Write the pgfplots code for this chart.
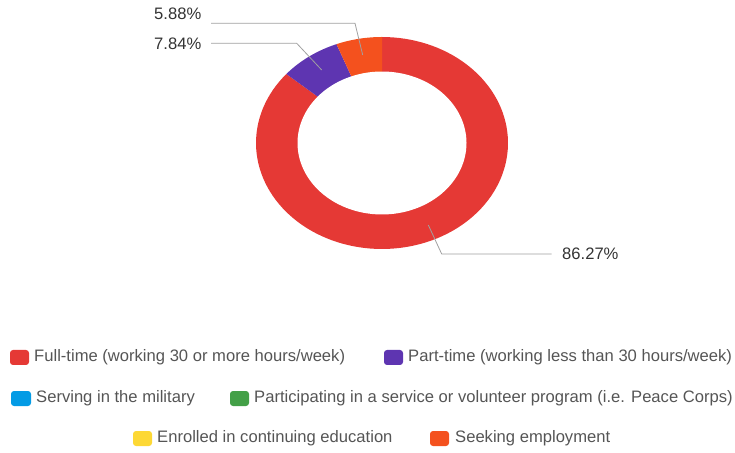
\documentclass[border=0pt]{standalone}
\usepackage{pgfplots}
\pgfplotsset{compat=1.18}
\usepackage{fontspec}
\setmainfont{Liberation Sans}

\definecolor{cFull}{HTML}{E53935}
\definecolor{cPart}{HTML}{5E35B1}
\definecolor{cMil}{HTML}{039BE5}
\definecolor{cVol}{HTML}{43A047}
\definecolor{cEdu}{HTML}{FDD835}
\definecolor{cSeek}{HTML}{F4511E}
\definecolor{lead}{HTML}{A0A0A0}
\definecolor{legtext}{HTML}{555555}
\definecolor{labtext}{HTML}{333333}

\begin{document}
\begin{tikzpicture}
    % shares (percent), clockwise from 12 o'clock
    \pgfmathsetmacro{\vFull}{86.27}
    \pgfmathsetmacro{\vPart}{7.84}
    \pgfmathsetmacro{\vSeek}{5.88}
    \pgfmathsetmacro{\tot}{\vFull+\vPart+\vSeek}
    \pgfmathsetmacro{\aA}{90}
    \pgfmathsetmacro{\aB}{90-(\vFull/\tot)*360}
    \pgfmathsetmacro{\aC}{\aB-(\vPart/\tot)*360}
    \pgfmathsetmacro{\aD}{-270}
    \begin{axis}[
        name=main,
        width=735pt, height=452pt,
        scale only axis,
        xmin=0, xmax=735,
        ymin=-452, ymax=0,
        hide axis,
        clip=false,
    ]
        % slices (ellipse centre 382,-143; radii 126 x 106)
        \addplot[fill=cFull, draw=none, domain=\aB:\aA, samples=120]
            ({382+126*cos(x)}, {-143+106*sin(x)}) -- (382,-143) -- cycle;
        \addplot[fill=cPart, draw=none, domain=\aC:\aB, samples=20]
            ({382+126*cos(x)}, {-143+106*sin(x)}) -- (382,-143) -- cycle;
        \addplot[fill=cSeek, draw=none, domain=\aD:\aC, samples=20]
            ({382+126*cos(x)}, {-143+106*sin(x)}) -- (382,-143) -- cycle;
        % hole
        \addplot[fill=white, draw=none, domain=0:360, samples=120]
            ({382+84.5*cos(x)}, {-143+71.5*sin(x)}) -- cycle;

        % leader lines and labels
        \draw[lead, line width=0.8pt] (211,-23.3) -- (355,-23.3) -- (362.7,-55);
        \draw[lead, line width=0.8pt] (211,-43.3) -- (296.7,-43.3) -- (321.7,-70);
        \draw[lead, line width=0.8pt] (551.7,-254) -- (441.7,-254) -- (428.3,-225);
        \begin{scope}[every node/.style={font=\fontsize{16.6}{20}\selectfont, text=labtext, inner sep=0pt}]
            \node[anchor=west] at (154,-14) {5.88\%};
            \node[anchor=west] at (154,-44) {7.84\%};
            \node[anchor=west] at (562,-254) {86.27\%};
        \end{scope}

        % legend
        \begin{scope}[every node/.style={font=\fontsize{16.6}{20}\selectfont, text=legtext, inner sep=0pt, anchor=west}]
            \fill[cFull, rounded corners=3pt] (10,-350) rectangle (29,-365);
            \node at (34,-357.5) {Full-time (working 30 or more hours/week)};
            \fill[cPart, rounded corners=3pt] (384,-350) rectangle (403,-365);
            \node at (408,-357.5) {Part-time (working less than 30 hours/week)};
            \fill[cMil, rounded corners=3pt] (11,-391) rectangle (31,-406);
            \node at (36,-398.5) {Serving in the military};
            \fill[cVol, rounded corners=3pt] (230,-391) rectangle (249,-406);
            \node at (254,-398.5) {Participating in a service or volunteer program (i.e. Peace Corps)};
            \fill[cEdu, rounded corners=3pt] (133,-431) rectangle (152,-446);
            \node at (157,-438.5) {Enrolled in continuing education};
            \fill[cSeek, rounded corners=3pt] (430,-431) rectangle (449,-446);
            \node at (455,-438.5) {Seeking employment};
        \end{scope}
    \end{axis}
    \pgfresetboundingbox
    \useasboundingbox (main.south west) rectangle (main.north east);
\end{tikzpicture}
\end{document}
